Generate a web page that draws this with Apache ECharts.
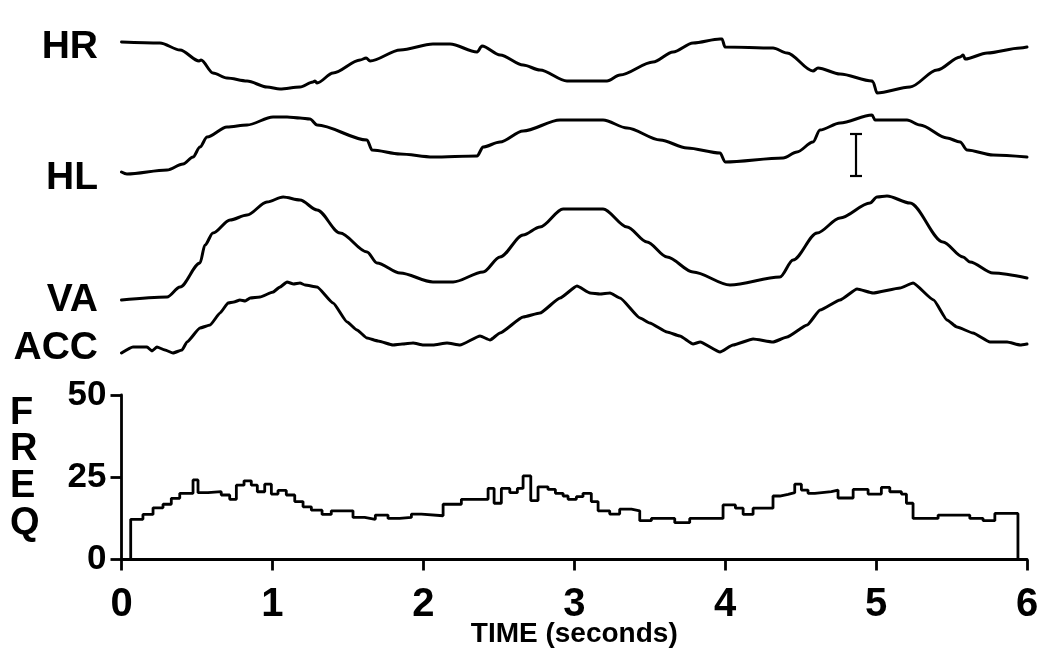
<!DOCTYPE html>
<html>
<head>
<meta charset="utf-8">
<script src="https://cdn.jsdelivr.net/npm/echarts@6/dist/echarts.min.js"></script>
<style>
html,body{margin:0;padding:0;background:#fff;}
#chart{width:1050px;height:670px;}
</style>
</head>
<body>
<div id="chart"></div>
<script>
// ---- data (time in seconds, traces in arbitrary units) ----
const xTicks = [0, 1, 2, 3, 4, 5, 6];
const freqTicks = [0, 25, 50];
const traceLabels = ['HR', 'HL', 'VA', 'ACC'];
const freqLabel = ['F', 'R', 'E', 'Q'];
const xAxisTitle = 'TIME (seconds)';

const hr = [[0,58],[0.255,57],[0.388,50],[0.514,39],[0.527,40],[0.606,27],[0.699,22],[0.832,19],[0.964,13],[1.05,11],[1.183,13],[1.269,18],[1.282,19],[1.296,17],[1.402,27],[1.581,40],[1.621,42],[1.647,39],[1.847,50],[2.064,56],[2.177,56],[2.356,48],[2.389,54],[2.509,45],[2.661,35],[2.773,30],[2.952,19],[3.217,19],[3.303,25],[3.522,38],[3.655,48],[3.787,57],[3.966,61],[3.979,61],[3.999,53],[4.317,52],[4.41,47],[4.582,29],[4.615,32],[4.761,26],[4.973,19],[4.98,18],[5.006,7],[5.225,13],[5.404,30],[5.557,43],[5.577,45],[5.59,41],[5.736,47],[5.955,52],[6.0,53]];

const hl = [[0,8],[0.036,6],[0.302,10],[0.408,16],[0.474,23],[0.52,33],[0.567,43],[0.699,53],[0.832,55],[1.004,63],[1.097,63],[1.183,62],[1.249,61],[1.296,55],[1.627,40],[1.66,30],[1.846,26],[2.064,23],[2.356,24],[2.396,33],[2.508,38],[2.661,49],[2.906,60],[3.191,60],[3.35,52],[3.569,40],[3.748,32],[3.966,27],[4.0,18],[4.384,22],[4.476,28],[4.582,38],[4.628,50],[4.761,57],[4.973,65],[4.993,60],[5.205,60],[5.291,55],[5.47,42],[5.557,38],[5.603,30],[5.775,25],[6.0,23]];

const va = [[0,5],[0.302,8],[0.388,18],[0.52,42],[0.553,60],[0.606,72],[0.719,85],[0.832,90],[0.964,103],[1.071,108],[1.183,105],[1.296,95],[1.448,72],[1.627,53],[1.693,42],[1.846,32],[2.064,23],[2.197,23],[2.396,33],[2.508,48],[2.661,70],[2.773,78],[2.926,96],[3.085,96],[3.191,96],[3.35,78],[3.482,63],[3.615,48],[3.787,33],[4.032,20],[4.363,28],[4.45,45],[4.609,72],[4.761,87],[4.96,102],[5.006,108],[5.072,109],[5.225,102],[5.443,63],[5.576,48],[5.622,43],[5.775,32],[6.0,27]];

const acc = [[0,7],[0.076,13],[0.169,13],[0.202,9],[0.235,13],[0.288,10],[0.341,7],[0.401,10],[0.434,18],[0.52,32],[0.587,35],[0.653,47],[0.706,57],[0.745,58],[0.785,60],[0.82,59],[0.852,62],[0.918,63],[1.004,68],[1.05,73],[1.097,78],[1.14,76],[1.183,77],[1.216,75],[1.296,73],[1.402,57],[1.495,38],[1.56,30],[1.627,22],[1.7,19],[1.799,15],[1.86,16],[1.932,17],[2.0,15],[2.064,15],[2.157,17],[2.243,15],[2.376,24],[2.442,20],[2.508,27],[2.661,43],[2.773,47],[2.906,62],[3.018,74],[3.105,67],[3.17,66],[3.237,67],[3.303,62],[3.436,42],[3.5,37],[3.615,28],[3.7,24],[3.787,16],[3.834,18],[3.966,8],[4.052,15],[4.185,21],[4.317,18],[4.41,23],[4.543,35],[4.629,50],[4.761,60],[4.874,71],[4.98,67],[5.159,72],[5.245,77],[5.381,60],[5.47,40],[5.536,33],[5.642,27],[5.755,18],[5.868,18],[5.955,15],[6.0,16]];

// histogram: [bin start time, count]; last bin ends at freqEnd
const freqSteps = [[0.061,12.2],[0.142,13.7],[0.209,15.7],[0.275,16.8],[0.33,18.6],[0.386,20.1],[0.474,24.2],[0.507,20.3],[0.573,20.6],[0.661,19.6],[0.717,18.3],[0.761,22.6],[0.812,23.9],[0.86,22.6],[0.9,20.6],[0.949,22.9],[0.993,19.9],[1.037,21.0],[1.092,19.6],[1.148,17.6],[1.203,16.0],[1.258,15.0],[1.329,13.7],[1.39,14.8],[1.534,12.8],[1.611,12.2],[1.682,13.5],[1.766,12.5],[1.843,12.8],[1.921,13.8],[1.987,13.3],[2.131,16.8],[2.252,18.3],[2.429,21.6],[2.469,17.1],[2.517,21.6],[2.573,20.3],[2.623,21.6],[2.661,25.4],[2.712,17.9],[2.76,22.1],[2.826,21.3],[2.875,20.1],[2.926,19.3],[2.959,18.3],[3.014,19.1],[3.058,20.1],[3.113,17.6],[3.158,14.8],[3.235,13.8],[3.301,15.3],[3.379,14.8],[3.434,11.8],[3.511,12.5],[3.666,11.2],[3.765,12.5],[3.986,16.6],[4.068,15.6],[4.119,13.7],[4.185,15.6],[4.317,19.3],[4.362,19.8],[4.417,20.3],[4.461,22.9],[4.505,21.1],[4.549,20.1],[4.594,20.6],[4.704,21.1],[4.748,18.7],[4.848,21.3],[4.947,19.9],[5.035,21.9],[5.091,20.6],[5.168,19.9],[5.201,17.1],[5.245,12.5],[5.411,13.5],[5.621,12.5],[5.709,11.8],[5.787,14.0]];
const freqEnd = 5.94;

// calibration bar on HL trace: [time, low, high]
const scaleBar = [[4.867, 4, 46]];

// ---- build ----
const freqData = [[freqSteps[0][0], 0]];
freqSteps.forEach(s => freqData.push([s[0], s[1]]));
freqData.push([freqEnd, 0]);

const INK = '#000';
const FONT = "'Liberation Sans', Arial, Helvetica, sans-serif";

const L = 121.5, R = 23;
const grids = [
  {left: L, right: R, top: 395, bottom: 110.5},   // FREQ
  {left: L, right: R, top: 30, height: 70},        // HR
  {left: L, right: R, top: 110, height: 70},       // HL
  {left: L, right: R, top: 190, height: 115},      // VA
  {left: L, right: R, top: 275, height: 85}        // ACC
];
const traceMax = [70, 70, 115, 85];

const xAxes = [{
  type: 'value', gridIndex: 0, min: xTicks[0], max: xTicks[xTicks.length - 1], interval: 1,
  axisLine: {show: true, lineStyle: {color: INK, width: 2.8}},
  axisTick: {show: true, length: 11, lineStyle: {color: INK, width: 2.8}},
  axisLabel: {color: INK, fontFamily: FONT, fontWeight: 'bold', fontSize: 40, margin: 25},
  splitLine: {show: false},
  name: xAxisTitle, nameLocation: 'middle', nameGap: 61, nameMoveOverlap: false,
  nameTextStyle: {color: INK, fontFamily: FONT, fontWeight: 'bold', fontSize: 28}
}];
const yAxes = [{
  type: 'value', gridIndex: 0, min: freqTicks[0], max: freqTicks[2], interval: freqTicks[1],
  axisLine: {show: true, lineStyle: {color: INK, width: 2.8}},
  axisTick: {show: true, length: 11, lineStyle: {color: INK, width: 2.8}},
  axisLabel: {color: INK, fontFamily: FONT, fontWeight: 'bold', fontSize: 35, margin: 15},
  splitLine: {show: false}
}];
for (let i = 1; i <= 4; i++) {
  xAxes.push({type: 'value', gridIndex: i, min: 0, max: 6, show: false});
  yAxes.push({type: 'value', gridIndex: i, min: 0, max: traceMax[i - 1], show: false});
}

const lineStyle = {color: INK, width: 3, join: 'round', cap: 'round'};
const traces = [hr, hl, va, acc];
const series = traces.map((d, i) => ({
  type: 'line', xAxisIndex: i + 1, yAxisIndex: i + 1, data: d,
  symbol: 'none', smooth: i === 3 ? 0.15 : 0.3, smoothMonotone: 'x',
  lineStyle: lineStyle, silent: true, animation: false
}));
series.push({
  type: 'line', xAxisIndex: 0, yAxisIndex: 0, data: freqData, step: 'end',
  symbol: 'none', lineStyle: {color: INK, width: 2.8}, silent: true, animation: false
});
series.push({
  type: 'custom', xAxisIndex: 2, yAxisIndex: 2, data: scaleBar, silent: true, animation: false,
  encode: {x: 0, y: [1, 2]},
  renderItem: function (params, api) {
    const t = api.coord([api.value(0), api.value(2)]);
    const b = api.coord([api.value(0), api.value(1)]);
    const st = {stroke: INK, lineWidth: 2.2};
    return {type: 'group', children: [
      {type: 'line', shape: {x1: t[0], y1: t[1], x2: b[0], y2: b[1]}, style: st},
      {type: 'line', shape: {x1: t[0] - 6, y1: t[1], x2: t[0] + 6, y2: t[1]}, style: st},
      {type: 'line', shape: {x1: b[0] - 6, y1: b[1], x2: b[0] + 6, y2: b[1]}, style: st}
    ]};
  }
});

const labelY = [48, 179, 301, 349];
const graphics = traceLabels.map((s, i) => ({
  type: 'text', right: 1050 - 98, top: labelY[i] - 20,
  style: {text: s, fill: INK, font: "bold 39px " + FONT, textAlign: 'right'}
}));
const freqY = [414, 450, 487, 524];
freqLabel.forEach((s, i) => graphics.push({
  type: 'text', left: 10, top: freqY[i] - 19,
  style: {text: s, fill: INK, font: "bold 38px " + FONT}
}));

const chart = echarts.init(document.getElementById('chart'), null, {renderer: 'canvas'});
chart.setOption({
  backgroundColor: '#fff',
  animation: false,
  grid: grids,
  xAxis: xAxes,
  yAxis: yAxes,
  series: series,
  graphic: graphics
});
</script>
</body>
</html>
